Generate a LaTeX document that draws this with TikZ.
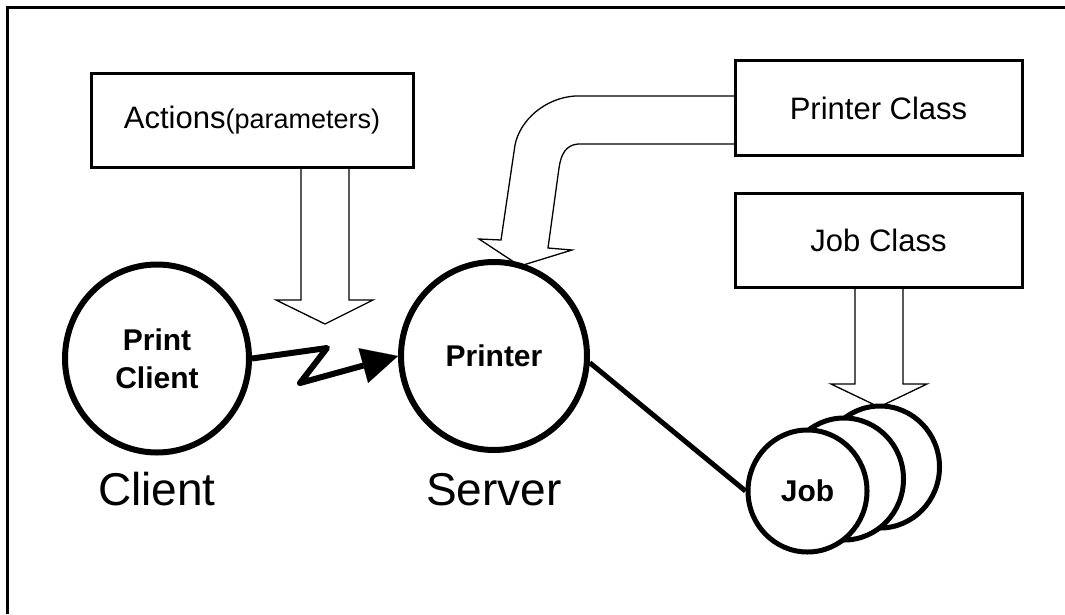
\documentclass[tikz,border=0pt]{standalone}
\usepackage{fontspec}
\setmainfont{Liberation Sans}
\usetikzlibrary{shapes.geometric,arrows.meta}

\begin{document}
\begin{tikzpicture}[x=1pt,y=-1pt,
		classbox/.style={draw,line width=3pt,minimum width=287pt,minimum height=95pt,inner sep=0pt,font=\fontsize{31}{36}\selectfont},
		obj/.style={draw,ellipse,fill=white,line width=6pt,inner sep=0pt,align=center,font=\fontsize{30}{38}\selectfont\bfseries},
		jobobj/.style={obj,line width=5pt,minimum width=119pt,minimum height=122pt},
		blockarrow/.style={draw,line width=1.3pt,line join=miter},
		biglabel/.style={font=\fontsize{46}{52}\selectfont}]
		\useasboundingbox (0,0) rectangle (1065,614);
		\draw[line width=2.5pt] (7.5,614) -- (7.5,7.5) -- (1065,7.5);
		\node[classbox,minimum width=322pt,minimum height=94pt] (actions) at (252,120) {Actions{\fontsize{27}{32}\selectfont(parameters)}};
		\node[classbox] (printerclass) at (878.5,108) {Printer Class};
		\node[classbox,minimum height=94pt] (jobclass) at (878.5,240) {Job Class};
		% block arrows
		\draw[blockarrow] (301,168) -- (301,300) -- (276,300) -- (325,324) -- (373,300) -- (349,300) -- (349,168);
		\draw[blockarrow] (855,288) -- (855,384) -- (831,384) -- (879,407) -- (927,384) -- (903,384) -- (903,288);
		\draw[blockarrow] (734,96) -- (575,96) .. controls (545,98) and (520,120) .. (515,145) -- (501,240)
			-- (479,239) -- (520,266) -- (572,250) -- (548,248) -- (559,168)
			.. controls (561,154) and (566,145) .. (578,144) -- (734,144);
		\node[obj,minimum width=184pt,minimum height=188pt] (client) at (157,358.5) {Print\\Client};
		\node[obj,minimum width=186pt,minimum height=188pt] (printer) at (494,356) {Printer};
		\node[biglabel] (clientlbl) at (157,489) {Client};
		\node[biglabel] (serverlbl) at (494,490) {Server};
		\node[jobobj] (jobC) at (880,467) {};
		\node[jobobj] (jobB) at (844,479) {};
		\node[jobobj] (jobA) at (807.5,491) {Job};
		\draw[line width=6pt,line join=round,-{Triangle[length=36pt,width=36pt,line width=0.1pt]}] (client.east) -- (327,348) -- (300,383) -- (printer.west);
		\draw[line width=5pt] (printer.-4) -- (jobA.west);
	\end{tikzpicture}
\end{document}
